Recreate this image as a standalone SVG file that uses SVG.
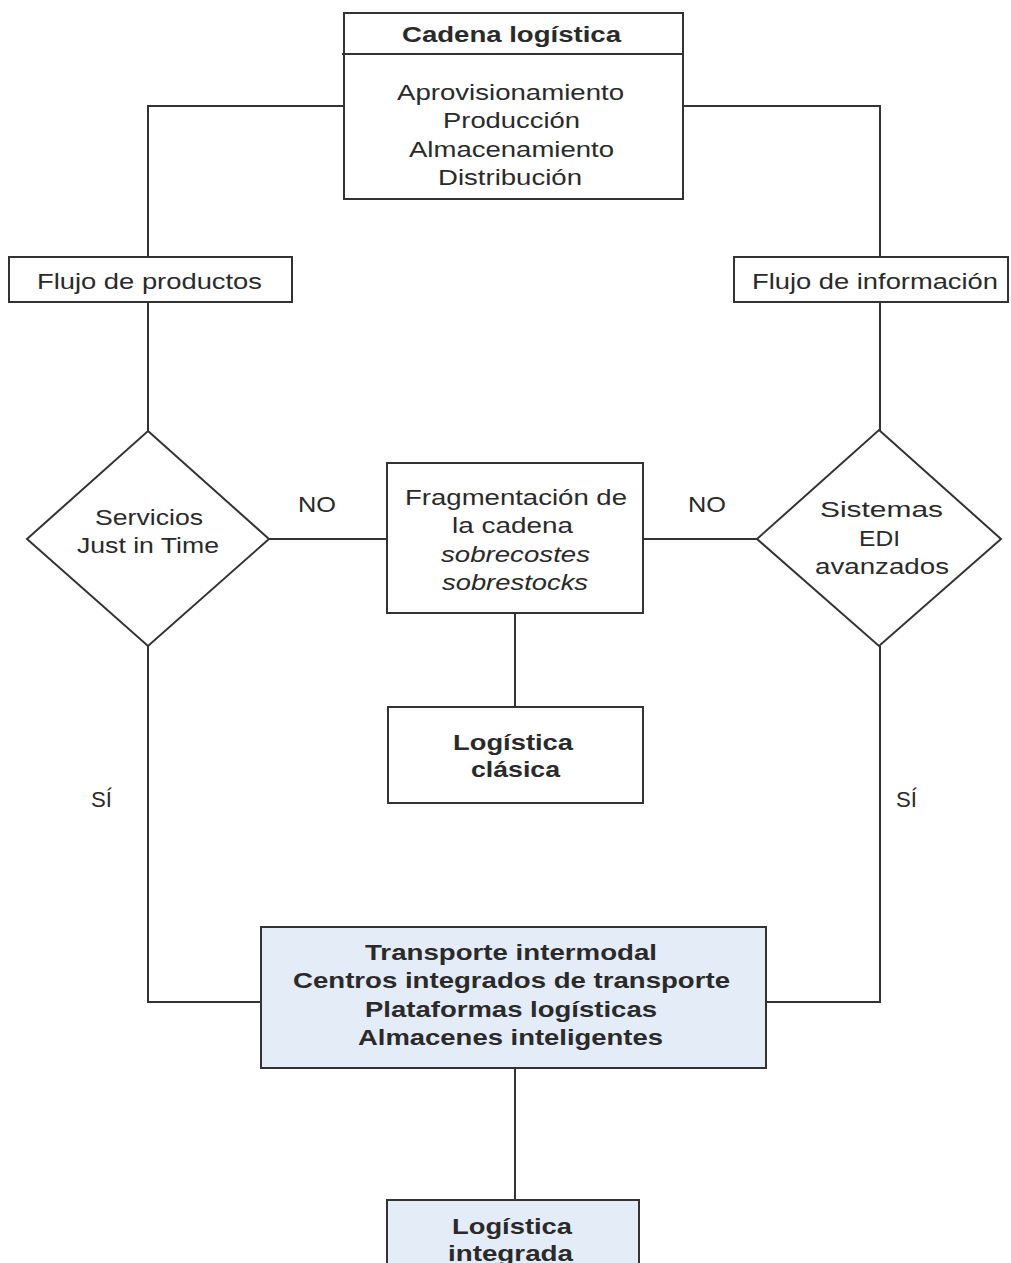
<svg xmlns="http://www.w3.org/2000/svg" width="1011" height="1263" viewBox="0 0 1011 1263">
  <style>
    .box { fill: #ffffff; stroke: #333333; stroke-width: 2; }
    .blue { fill: #e4ecf7; stroke: #333333; stroke-width: 2; }
    .wire { fill: none; stroke: #333333; stroke-width: 2; }
    text { font-family: "Liberation Sans", Arial, sans-serif; font-size: 22px; fill: #2a2a2a; }
    .b { font-weight: bold; }
    .i { font-style: italic; }
  </style>
  <rect width="1011" height="1263" fill="#ffffff"/>

  <!-- connectors -->
  <g id="connectors">
    <polyline class="wire" points="344,106 148,106 148,257"/>
    <polyline class="wire" points="683,106 880,106 880,257"/>
    <line class="wire" x1="148" y1="302" x2="148" y2="431"/>
    <line class="wire" x1="880" y1="302" x2="880" y2="431"/>
    <line class="wire" x1="269" y1="539" x2="387" y2="539"/>
    <line class="wire" x1="643" y1="539" x2="757" y2="539"/>
    <line class="wire" x1="515" y1="613" x2="515" y2="707"/>
    <polyline class="wire" points="148,646 148,1002 261,1002"/>
    <polyline class="wire" points="880,646 880,1002 766,1002"/>
    <line class="wire" x1="515" y1="1068" x2="515" y2="1200"/>
    <text x="298" y="512" textLength="38" lengthAdjust="spacingAndGlyphs">NO</text>
    <text x="688" y="512" textLength="38" lengthAdjust="spacingAndGlyphs">NO</text>
    <text x="91" y="807" textLength="21" lengthAdjust="spacingAndGlyphs">SÍ</text>
    <text x="896" y="807" textLength="21" lengthAdjust="spacingAndGlyphs">SÍ</text>
  </g>

  <!-- supply chain header -->
  <g id="cadena">
    <rect class="box" x="344" y="13" width="339" height="186"/>
    <line class="wire" x1="342" y1="54" x2="683" y2="54"/>
    <text class="b" x="402" y="42" textLength="219" lengthAdjust="spacingAndGlyphs">Cadena logística</text>
    <text x="397" y="100" textLength="227" lengthAdjust="spacingAndGlyphs">Aprovisionamiento</text>
    <text x="443" y="128" textLength="137" lengthAdjust="spacingAndGlyphs">Producción</text>
    <text x="409" y="157" textLength="205" lengthAdjust="spacingAndGlyphs">Almacenamiento</text>
    <text x="438" y="185" textLength="144" lengthAdjust="spacingAndGlyphs">Distribución</text>
  </g>

  <g id="flujo-productos">
    <rect class="box" x="9" y="257" width="283" height="45"/>
    <text x="37" y="289" textLength="225" lengthAdjust="spacingAndGlyphs">Flujo de productos</text>
  </g>

  <g id="flujo-informacion">
    <rect class="box" x="734" y="257" width="274" height="45"/>
    <text x="752" y="289" textLength="246" lengthAdjust="spacingAndGlyphs">Flujo de información</text>
  </g>

  <g id="jit">
    <polygon class="box" points="148,431 269,539 148,646 27,539"/>
    <text x="95" y="525" textLength="108" lengthAdjust="spacingAndGlyphs">Servicios</text>
    <text x="77" y="553" textLength="142" lengthAdjust="spacingAndGlyphs">Just in Time</text>
  </g>

  <g id="edi">
    <polygon class="box" points="879,430 1001,539 879,646 757,539"/>
    <text x="820" y="517" textLength="123" lengthAdjust="spacingAndGlyphs">Sistemas</text>
    <text x="859" y="546" textLength="41" lengthAdjust="spacingAndGlyphs">EDI</text>
    <text x="815" y="574" textLength="134" lengthAdjust="spacingAndGlyphs">avanzados</text>
  </g>

  <g id="fragmentacion">
    <rect class="box" x="387" y="463" width="256" height="150"/>
    <text x="405" y="505" textLength="222" lengthAdjust="spacingAndGlyphs">Fragmentación de</text>
    <text x="452" y="533" textLength="121" lengthAdjust="spacingAndGlyphs">la cadena</text>
    <text class="i" x="441" y="562" textLength="149" lengthAdjust="spacingAndGlyphs">sobrecostes</text>
    <text class="i" x="442" y="590" textLength="146" lengthAdjust="spacingAndGlyphs">sobrestocks</text>
  </g>

  <g id="logistica-clasica">
    <rect class="box" x="388" y="707" width="255" height="96"/>
    <text class="b" x="453" y="750" textLength="120" lengthAdjust="spacingAndGlyphs">Logística</text>
    <text class="b" x="471" y="777" textLength="89" lengthAdjust="spacingAndGlyphs">clásica</text>
  </g>

  <g id="soluciones">
    <rect class="blue" x="261" y="927" width="505" height="141"/>
    <text class="b" x="365" y="960" textLength="292" lengthAdjust="spacingAndGlyphs">Transporte intermodal</text>
    <text class="b" x="293" y="988" textLength="437" lengthAdjust="spacingAndGlyphs">Centros integrados de transporte</text>
    <text class="b" x="365" y="1017" textLength="292" lengthAdjust="spacingAndGlyphs">Plataformas logísticas</text>
    <text class="b" x="358" y="1045" textLength="305" lengthAdjust="spacingAndGlyphs">Almacenes inteligentes</text>
  </g>

  <g id="logistica-integrada">
    <rect class="blue" x="387" y="1200" width="252" height="80"/>
    <text class="b" x="452" y="1234" textLength="120" lengthAdjust="spacingAndGlyphs">Logística</text>
    <text class="b" x="448" y="1261" textLength="125" lengthAdjust="spacingAndGlyphs">integrada</text>
  </g>
</svg>
